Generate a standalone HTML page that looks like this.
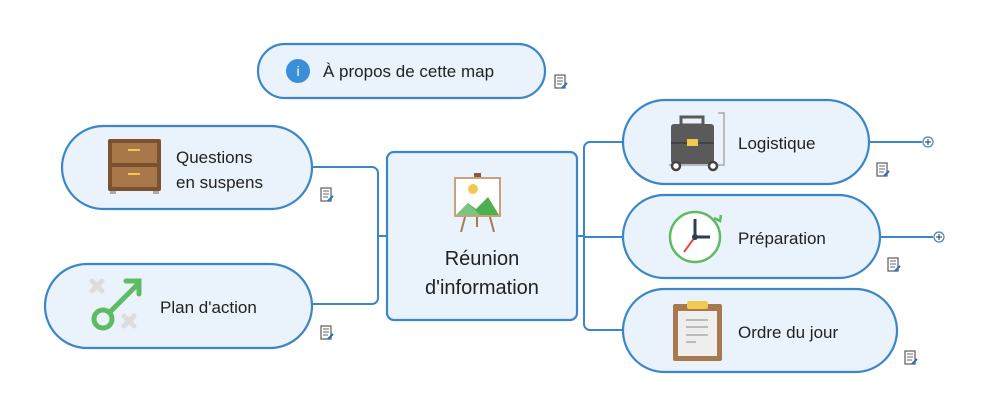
<!DOCTYPE html>
<html><head><meta charset="utf-8"><style>
body{margin:0;background:#fff;width:990px;height:418px;overflow:hidden}
svg{display:block}
text{font-family:"Liberation Sans",sans-serif;fill:#222}
</style></head><body>
<svg width="990" height="418" viewBox="0 0 990 418">
<defs>
<g id="note"><rect x="0" y="0" width="10" height="13" fill="#fff" stroke="#666" stroke-width="1.3"/><path d="M2 3h6M2 6h6M2 9h5" stroke="#666" stroke-width="1"/><path d="M7 13l5-5" stroke="#2a6fc0" stroke-width="2"/></g>
</defs>
<g fill="none" stroke="#3a86c8" stroke-width="2">
<path d="M312 167H372a6 6 0 0 1 6 6V298a6 6 0 0 1-6 6H312"/>
<path d="M378 236H387"/>
<path d="M577 236H584"/>
<path d="M623 142H590a6 6 0 0 0-6 6V324a6 6 0 0 0 6 6H623"/>
<path d="M584 237H623"/>
<path d="M869 142H922"/><path d="M880 237H933"/>
</g>
<circle cx="928" cy="142" r="5" fill="#fff" stroke="#3a86c8" stroke-width="1.2"/><path d="M925 142h6M928 139v6" stroke="#333" stroke-width="1"/>
<circle cx="939" cy="237" r="5" fill="#fff" stroke="#3a86c8" stroke-width="1.2"/><path d="M936 237h6M939 234v6" stroke="#333" stroke-width="1"/>
<g fill="#eaf2fb" stroke="#3a86c8" stroke-width="2.2">
<rect x="258" y="44" width="287" height="54" rx="27"/>
<rect x="62" y="126" width="250" height="83" rx="41.5"/>
<rect x="45" y="264" width="267" height="84" rx="42"/>
<rect x="387" y="152" width="190" height="168" rx="7"/>
<rect x="623" y="100" width="246" height="84" rx="42"/>
<rect x="623" y="195" width="257" height="83" rx="41.5"/>
<rect x="623" y="289" width="274" height="83" rx="41.5"/>
</g>
<circle cx="298" cy="71" r="12" fill="#3a8fd8"/><text x="298" y="76" font-size="14" text-anchor="middle" style="fill:#fff">i</text>
<text x="323" y="77" font-size="17">À propos de cette map</text>
<rect x="108" y="139" width="53" height="52" rx="2" fill="#7a5230"/><rect x="112" y="143" width="45" height="20" fill="#a8774a"/><rect x="112" y="167" width="45" height="20" fill="#a8774a"/><rect x="128" y="149" width="12" height="2" fill="#f2c94c"/><rect x="128" y="173" width="12" height="2" fill="#f2c94c"/><rect x="110" y="191" width="6" height="3" fill="#aaa"/><rect x="153" y="191" width="6" height="3" fill="#aaa"/>
<text x="176" y="163" font-size="17">Questions</text><text x="176" y="188" font-size="17">en suspens</text>
<g stroke="#ddd" stroke-width="5" stroke-linecap="round"><path d="M92 281l10 10M102 281l-10 10M124 316l10 10M134 316l-10 10"/></g>
<g stroke="#5dbb63" stroke-width="5" fill="none" stroke-linecap="round"><circle cx="103" cy="319" r="9"/><path d="M110 312L138 284M126 281h13v13"/></g>
<text x="160" y="313" font-size="17">Plan d'action</text>
<g><rect x="474" y="173" width="7" height="5" fill="#8a5a3a"/><rect x="455" y="178" width="45" height="38" fill="#fff" stroke="#c8a27a" stroke-width="2"/><circle cx="473" cy="189" r="5" fill="#f2c94c"/><path d="M456 215l12-12 8 6 12-12 11 18z" fill="#4caf50"/><path d="M456 215l12-12 12 12z" fill="#7bc67e"/><path d="M465 217l-4 15M490 217l4 15M477 217v10" stroke="#a67a4e" stroke-width="2"/></g>
<text x="482" y="265" font-size="20" text-anchor="middle">Réunion</text>
<text x="482" y="294" font-size="20" text-anchor="middle">d'information</text>
<rect x="671" y="124" width="43" height="40" rx="3" fill="#5a5a5a"/><rect x="681" y="117" width="22" height="8" fill="none" stroke="#5a5a5a" stroke-width="3"/><rect x="671" y="142" width="43" height="2" fill="#444"/><rect x="687" y="139" width="11" height="7" fill="#f2c94c"/><path d="M718 113h6v52h-55" fill="none" stroke="#bbb" stroke-width="2"/><circle cx="676" cy="166" r="4" fill="#fff" stroke="#444" stroke-width="2.5"/><circle cx="713" cy="166" r="4" fill="#fff" stroke="#444" stroke-width="2.5"/>
<text x="738" y="149" font-size="17">Logistique</text>
<circle cx="695" cy="237" r="25" fill="#fff" stroke="#5dbb63" stroke-width="2.5"/><path d="M695 219v18h15" stroke="#2c3e50" stroke-width="3" fill="none"/><path d="M695 237l-11 15" stroke="#e74c3c" stroke-width="2"/><circle cx="695" cy="237" r="3" fill="#2c3e50"/><path d="M714 218l6 3 1-6" stroke="#5dbb63" stroke-width="2.5" fill="none"/>
<text x="738" y="244" font-size="17">Préparation</text>
<rect x="673" y="304" width="49" height="57" rx="2" fill="#a67a4e"/><rect x="678" y="311" width="39" height="45" fill="#eee"/><rect x="687" y="301" width="21" height="8" rx="2" fill="#f2c94c"/><path d="M686 320h22M686 327h22M686 335h22M686 342h10" stroke="#bbb" stroke-width="2"/>
<text x="738" y="338" font-size="17">Ordre du jour</text>
<use href="#note" x="555" y="75"/><use href="#note" x="321" y="188"/><use href="#note" x="321" y="326"/>
<use href="#note" x="877" y="163"/><use href="#note" x="888" y="258"/><use href="#note" x="905" y="351"/>
</svg>
</body></html>
